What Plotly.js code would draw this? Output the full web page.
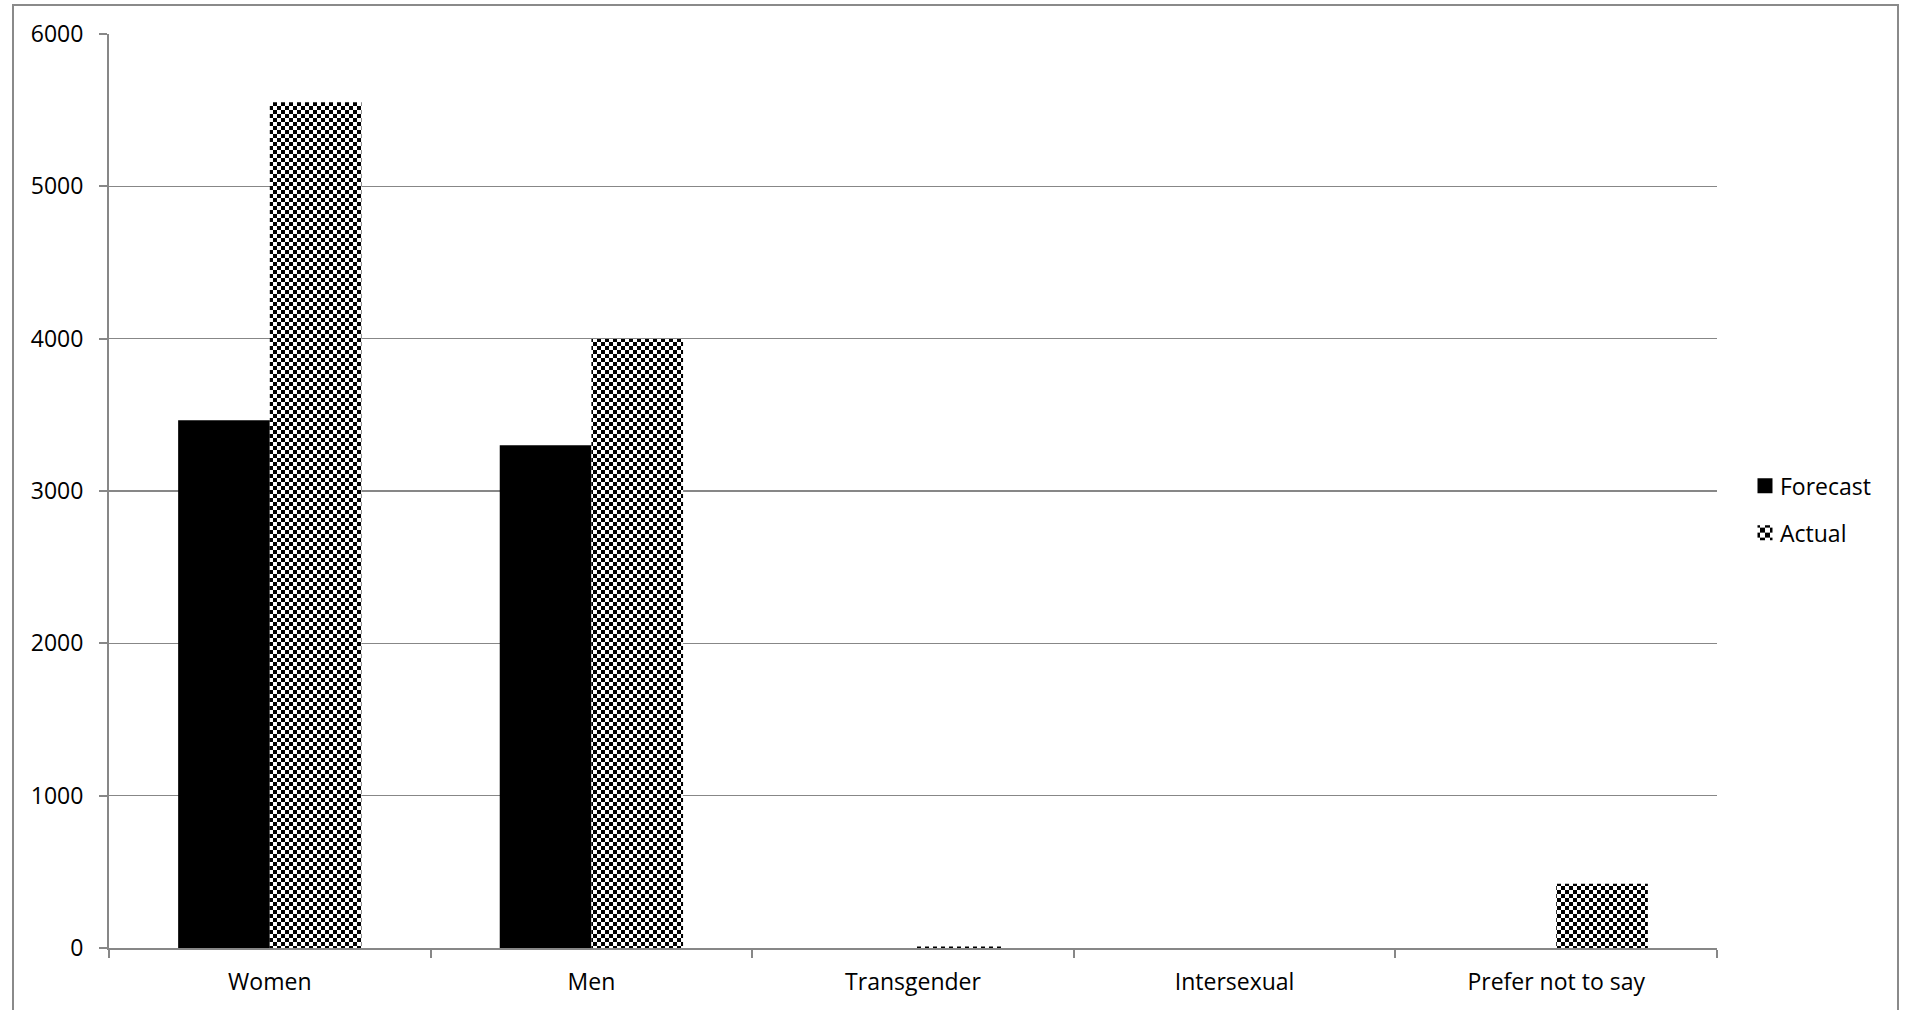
<!DOCTYPE html>
<html>
<head>
<meta charset="utf-8">
<script src="https://cdn.plot.ly/plotly-3.0.1.min.js"></script>
<style>
  html, body { margin: 0; padding: 0; background: #fff; }
  #chart { width: 1907px; height: 1010px; position: absolute; left: 0; top: 0; }
  #frame { position: absolute; left: 12px; top: 4px; width: 1887px; height: 1020px;
           border: 2px solid #8a8a8a; box-sizing: border-box; pointer-events: none; }
</style>
</head>
<body>
<div id="chart"></div>
<div id="frame"></div>
<script>
const categories = ["Women", "Men", "Transgender", "Intersexual", "Prefer not to say"];
const forecastValues = [3465, 3300, 0, 0, 0];
const actualValues = [5552, 3997, 10, 0, 421];
const yTickValues = [0, 1000, 2000, 3000, 4000, 5000, 6000];

const FONT = "Open Sans, Noto Sans, Liberation Sans, sans-serif";

const traces = [
  {
    type: "bar", name: "Forecast", x: categories, y: forecastValues,
    legendgroup: "f",
    marker: { color: "#000000", line: { width: 0 } },
    hoverinfo: "x+y"
  },
  {
    type: "bar", name: "Actual", x: categories, y: actualValues,
    legendgroup: "a",
    marker: {
      color: "#ffffff",
      line: { width: 0 },
      pattern: { shape: ".", fgcolor: "#000000", bgcolor: "#ffffff", size: 6, solidity: 0.5, fillmode: "replace" }
    },
    hoverinfo: "x+y"
  }
];

const layout = {
  width: 1907, height: 1010,
  paper_bgcolor: "#ffffff", plot_bgcolor: "#ffffff",
  margin: { l: 109, r: 190, t: 34, b: 62, pad: 0 },
  font: { family: FONT, size: 23, color: "#000000" },
  barmode: "group",
  bargap: 0.43,
  bargroupgap: 0,
  showlegend: true,
  legend: {
    x: 1.0143, xanchor: "left", y: 0.48, yanchor: "middle",
    font: { family: FONT, size: 23, color: "#000000" },
    tracegroupgap: 14, bgcolor: "rgba(0,0,0,0)", borderwidth: 0
  },
  xaxis: {
    type: "category",
    showgrid: false,
    showline: true, linecolor: "#878787", linewidth: 2,
    ticks: "outside", tickson: "boundaries", ticklen: 8, tickwidth: 2, tickcolor: "#878787",
    ticklabelstandoff: 12,
    tickfont: { family: FONT, size: 23, color: "#000000" },
    zeroline: false, fixedrange: true
  },
  yaxis: {
    range: [0, 6000],
    tickvals: yTickValues,
    ticktext: yTickValues.map(String),
    showgrid: true, gridcolor: "#878787", gridwidth: 1.6,
    showline: true, linecolor: "#878787", linewidth: 2,
    ticks: "outside", ticklen: 8, tickwidth: 2, tickcolor: "#878787",
    ticklabelstandoff: 11,
    tickfont: { family: FONT, size: 23, color: "#000000" },
    zeroline: false, fixedrange: true
  }
};

Plotly.newPlot("chart", traces, layout, { displayModeBar: false, staticPlot: true }).then(function (gd) {
  const NS = "http://www.w3.org/2000/svg";
  // restyle the dot pattern into a small checkerboard (pure styling of the fill)
  document.querySelectorAll("#chart pattern").forEach(function (p) {
    p.setAttribute("width", "8");
    p.setAttribute("height", "8");
    p.setAttribute("patternUnits", "userSpaceOnUse");
    p.removeAttribute("patternTransform");
    while (p.firstChild) p.removeChild(p.firstChild);
    const bg = document.createElementNS(NS, "rect");
    bg.setAttribute("x", "0"); bg.setAttribute("y", "0");
    bg.setAttribute("width", "8"); bg.setAttribute("height", "8");
    bg.setAttribute("fill", "#ffffff");
    p.appendChild(bg);
    [[0, 0], [4, 4]].forEach(function (c) {
      const r = document.createElementNS(NS, "rect");
      r.setAttribute("x", String(c[0])); r.setAttribute("y", String(c[1]));
      r.setAttribute("width", "4"); r.setAttribute("height", "4");
      r.setAttribute("fill", "#000000");
      p.appendChild(r);
    });
  });
  // slightly larger legend swatches, as in the reference (keep Plotly's own offset)
  document.querySelectorAll("#chart .legendpoints path").forEach(function (el) {
    const t = el.getAttribute("transform") || "";
    el.setAttribute("transform", (t + " translate(5,0) scale(1.25)").trim());
  });
});
</script>
</body>
</html>
